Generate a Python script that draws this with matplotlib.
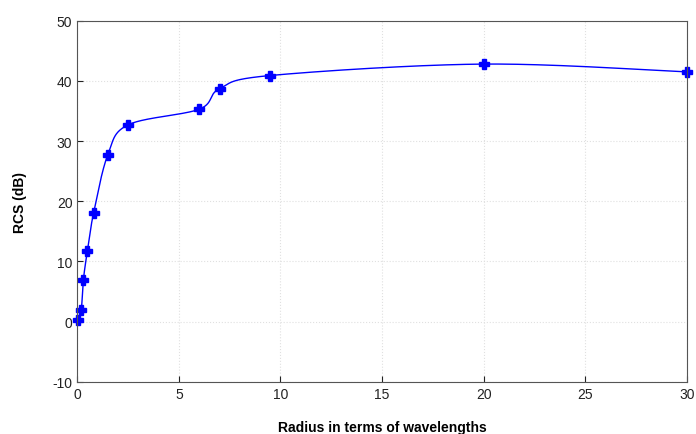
import numpy as np
import matplotlib
matplotlib.use('Agg')
import matplotlib.pyplot as plt

# radius (wavelengths) vs RCS (dB)
radius = [0.05, 0.2, 0.3, 0.5, 0.8, 1.5, 2.5, 6.0, 7.0, 9.5, 20.0, 30.0]
rcs = [0.2, 2.0, 6.9, 11.8, 18.0, 27.7, 32.7, 35.3, 38.7, 40.9, 42.8, 41.5]


def smooth_line(ax, x, y, steps=60):
    # spreadsheet-like smoothed line: Catmull-Rom Bezier in screen space
    p = ax.transData.transform(np.column_stack([x, y]))
    n = len(p)
    out = [p[0]]
    t = np.linspace(0, 1, steps)[1:, None]
    for k in range(n - 1):
        p0 = p[k - 1] if k > 0 else p[k]
        p3 = p[k + 2] if k + 2 < n else p[k + 1]
        c1 = p[k] + (p[k + 1] - p0) / 6
        c2 = p[k + 1] - (p3 - p[k]) / 6
        b = ((1 - t)**3 * p[k] + 3 * (1 - t)**2 * t * c1
             + 3 * (1 - t) * t**2 * c2 + t**3 * p[k + 1])
        out.extend(b)
    return ax.transData.inverted().transform(np.array(out))


plt.rcParams['font.family'] = ['Liberation Sans', 'DejaVu Sans']
plt.rcParams['axes.unicode_minus'] = False

fig = plt.figure(figsize=(6.96, 4.35), dpi=100)
ax = fig.add_axes([0.111, 0.12, 0.876, 0.83])
ax.set_xlim(0, 30)
ax.set_ylim(-10, 50)

curve = smooth_line(ax, radius, rcs)
ax.plot(curve[:, 0], curve[:, 1], color='#0000ff', lw=1.0)
ax.plot(radius, rcs, 'P', color='#0000ff', markersize=7, clip_on=False)

ax.set_xticks(range(0, 31, 5))
ax.set_yticks(range(-10, 51, 10))
ax.grid(True, linestyle=':', color='#e0e0e0', linewidth=0.8)
ax.tick_params(direction='in', length=4, labelsize=10, colors='#222222')
for s in ax.spines.values():
    s.set_color('#555555')
ax.set_xlabel('Radius in terms of wavelengths', fontweight='bold', fontsize=10, labelpad=14)
ax.set_ylabel('RCS (dB)', fontweight='bold', fontsize=10, labelpad=18)

fig.savefig('out.png', dpi=100)
